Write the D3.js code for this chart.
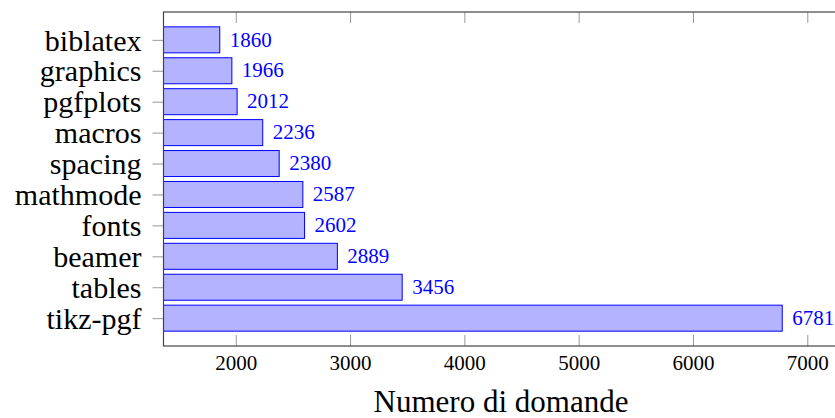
<!DOCTYPE html>
<html>
<head>
<meta charset="utf-8">
<script src="https://cdn.jsdelivr.net/npm/d3@7"></script>
<style>
  body { margin: 0; background: #fff; }
  text { font-family: "Liberation Serif", "DejaVu Serif", serif; }
</style>
</head>
<body>
<div id="chart"></div>
<script>
// Data
const categories = ["biblatex", "graphics", "pgfplots", "macros", "spacing",
                    "mathmode", "fonts", "beamer", "tables", "tikz-pgf"];
const values = [1860, 1966, 2012, 2236, 2380, 2587, 2602, 2889, 3456, 6781];
const xTicks = [2000, 3000, 4000, 5000, 6000, 7000];
const xTitle = "Numero di domande";

const W = 835, H = 418;
const plot = {left: 163.5, right: 838.5, top: 12, bottom: 346};

// pgfplots-like enlargement of the x limits (10% each side)
const vMin = d3.min(values), vMax = d3.max(values);
const pad = (vMax - vMin) * 0.1;
const x = d3.scaleLinear()
  .domain([vMin - pad, vMax + pad])
  .range([plot.left, plot.right]);

// bars by index, first category on top
const y = d3.scaleLinear()
  .domain([-0.9, categories.length - 1 + 0.9])
  .range([plot.top, plot.bottom]);
const barH = 26;

const svg = d3.select("#chart").append("svg")
  .attr("width", W)
  .attr("height", H);

// bars
svg.append("g")
  .selectAll("rect")
  .data(values)
  .enter()
  .append("rect")
  .attr("x", x(x.domain()[0]))
  .attr("y", (d, i) => y(i) - barH / 2)
  .attr("width", d => x(d) - x(x.domain()[0]))
  .attr("height", barH)
  .attr("fill", "#b3b3ff")
  .attr("stroke", "#0000ff")
  .attr("stroke-width", 1);

// value labels next to the bars
svg.append("g")
  .selectAll("text")
  .data(values)
  .enter()
  .append("text")
  .attr("x", d => x(d) + 10)
  .attr("y", (d, i) => y(i))
  .attr("dy", "0.32em")
  .attr("fill", "#0000ff")
  .attr("font-size", 21)
  .text(d => d);

// bottom axis, ticks pointing inwards
const xAxis = svg.append("g")
  .attr("transform", `translate(0,${plot.bottom})`)
  .call(d3.axisBottom(x).tickValues(xTicks).tickSize(-11).tickPadding(0).tickFormat(d3.format("d")));
xAxis.select(".domain").remove();
xAxis.selectAll(".tick line").attr("stroke", "#999");
xAxis.selectAll(".tick text")
  .attr("y", 24)
  .attr("dy", 0)
  .attr("fill", "#000")
  .attr("font-size", 21)
  .attr("font-family", null);

// top ticks (mirror)
const xTop = svg.append("g")
  .attr("transform", `translate(0,${plot.top})`)
  .call(d3.axisTop(x).tickValues(xTicks).tickSize(-11).tickFormat(""));
xTop.select(".domain").remove();
xTop.selectAll(".tick line").attr("stroke", "#999");

// left axis with category names
const yAxis = svg.append("g")
  .attr("transform", `translate(${plot.left},0)`)
  .call(d3.axisLeft(y)
    .tickValues(d3.range(categories.length))
    .tickSize(11)
    .tickPadding(11)
    .tickFormat(i => categories[i]));
yAxis.select(".domain").remove();
yAxis.selectAll(".tick line").attr("stroke", "#999");
yAxis.selectAll(".tick text")
  .attr("dy", "0.34em")
  .attr("fill", "#000")
  .attr("font-size", 30)
  .attr("font-family", null);

// frame
svg.append("rect")
  .attr("x", plot.left)
  .attr("y", plot.top)
  .attr("width", plot.right - plot.left)
  .attr("height", plot.bottom - plot.top)
  .attr("fill", "none")
  .attr("stroke", "#444")
  .attr("stroke-width", 1.2);

// axis title
svg.append("text")
  .attr("x", (plot.left + plot.right) / 2)
  .attr("y", 412)
  .attr("text-anchor", "middle")
  .attr("font-size", 31)
  .text(xTitle);
</script>
</body>
</html>
